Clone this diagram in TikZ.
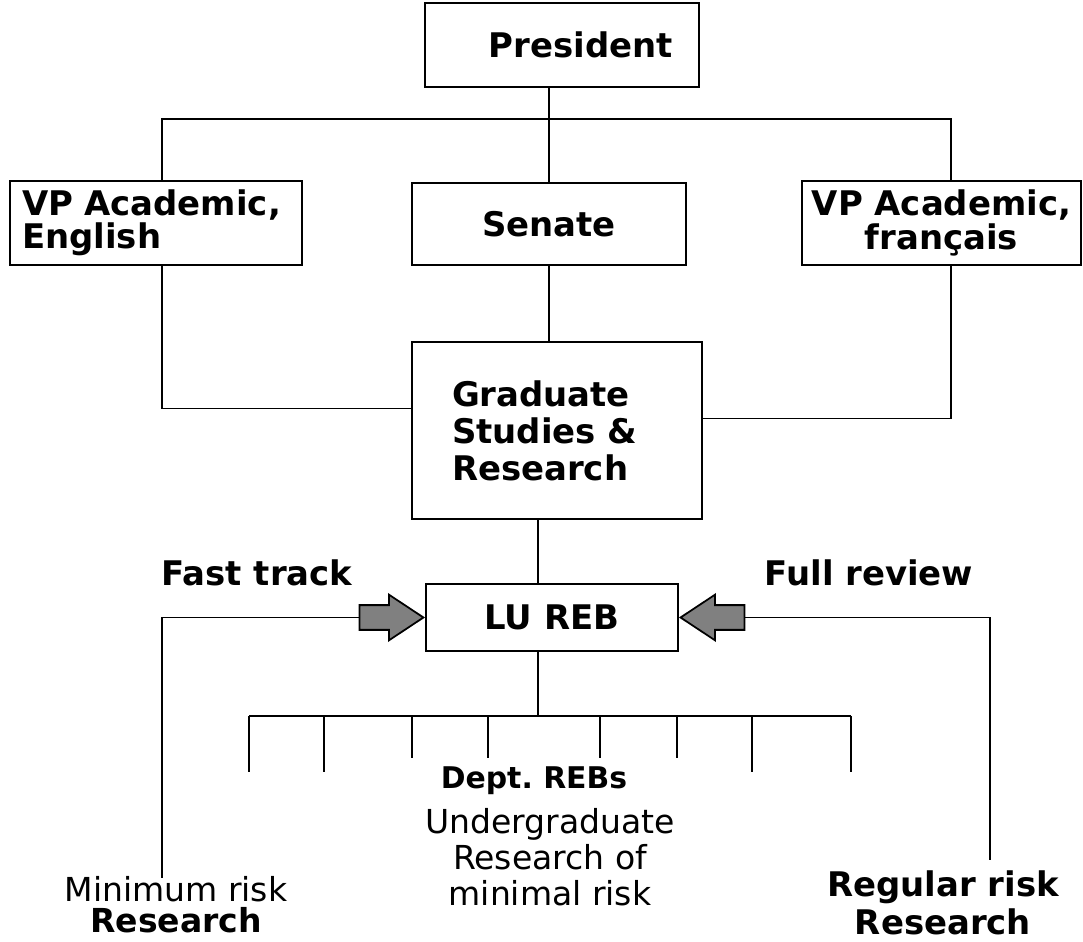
\documentclass[tikz,border=0pt]{standalone}
\usepackage{fontspec}
\setmainfont{DejaVu Sans}
\usepackage{tikz}
\usetikzlibrary{shapes.arrows,positioning,calc}

\begin{document}
\begin{tikzpicture}[x=0.02cm, y=-0.02cm,
    line width=1.1pt,
    box/.style={rectangle, draw, line width=1.1pt, inner sep=0pt, align=center,
        font=\fontsize{19.3}{19}\selectfont\bfseries},
    lbl/.style={inner sep=0pt, align=center, font=\fontsize{19.3}{22}\selectfont\bfseries},
    plain/.style={inner sep=0pt, align=center, font=\fontsize{18.8}{20.5}\selectfont},
    blockarrow/.style={single arrow, draw=black, fill=gray, line width=1pt,
        inner xsep=0pt, inner ysep=0.23cm, minimum height=1.28cm,
        single arrow head extend=0.21cm, single arrow tip angle=67}
]
    \useasboundingbox (0,0) rectangle (1083,942);

    % Top of the hierarchy
    \node[box, minimum width=5.48cm, minimum height=1.68cm, text width=4.44cm, align=right] (pres) at (562,45) {President};
    \node[box, minimum width=5.84cm, minimum height=1.68cm, text width=5.36cm, align=left] (vpen) at (156,223) {VP Academic,\\English};
    \node[box, minimum width=5.48cm, minimum height=1.64cm] (sen) at (549,224) {Senate};
    \node[box, minimum width=5.58cm, minimum height=1.68cm] (vpfr) at (941.5,223) {VP Academic,\\français};
    \node[box, minimum width=5.8cm, minimum height=3.54cm, text width=4.2cm, align=left,
        font=\fontsize{19.3}{21}\selectfont\bfseries] (gsr) at (557,430.5) {Graduate\\Studies \&\\Research};
    \node[box, minimum width=5.04cm, minimum height=1.34cm] (lureb) at (552,617.5) {LU REB};

    % Bus under the president
    \coordinate (busL) at (162,119);
    \coordinate (busR) at (951,119);
    \draw (pres.south -| sen.north) -- (sen.north);
    \draw (busL |- vpen.north) |- (busR) -- (busR |- vpfr.north);
    \draw (sen.south) -- (gsr.north -| sen.south);
    \draw (vpen.south -| busL) |- ($(gsr.west)+(0,-22)$);
    \draw (vpfr.south -| busR) |- ($(gsr.east)+(0,-12)$);

    % Down to the department boards
    \coordinate (deptbus) at (538,716);
    \draw (gsr.south -| deptbus) -- (lureb.north -| deptbus);
    \draw (lureb.south -| deptbus) -- (deptbus);
    \draw (249,716) -- (851,716);
    \foreach \x/\yend in {249/772, 324/772, 412/758, 488/758, 600/758, 677/758, 752/772, 851/772}
        \draw (\x,716) -- (\x,\yend);

    % Review tracks into LU REB
    \node[blockarrow, anchor=tip] (fast) at (lureb.west) {};
    \node[blockarrow, shape border rotate=180, anchor=tip] (full) at (lureb.east) {};
    \coordinate (minend) at (162,878);
    \coordinate (regend) at (990,860);
    \draw (fast.tail) -| (minend);
    \draw (full.tail) -| (regend);

    % Labels
    \node[lbl] (fasttxt) at (257,573) {Fast track};
    \node[lbl] (fulltxt) at (869,573) {Full review};
    \node[lbl, font=\fontsize{17}{20}\selectfont\bfseries] (depttxt) at (534,781) {Dept.\ REBs};
    \node[plain] (ugtxt) at (550,857) {Undergraduate\\Research of\\minimal risk};
    \node[plain, font=\fontsize{18.8}{17.5}\selectfont] (mintxt) at (176,905) {Minimum risk\\\textbf{Research}};
    \node[lbl] (regtxt) at (943,903) {Regular risk\\Research};
\end{tikzpicture}
\end{document}
